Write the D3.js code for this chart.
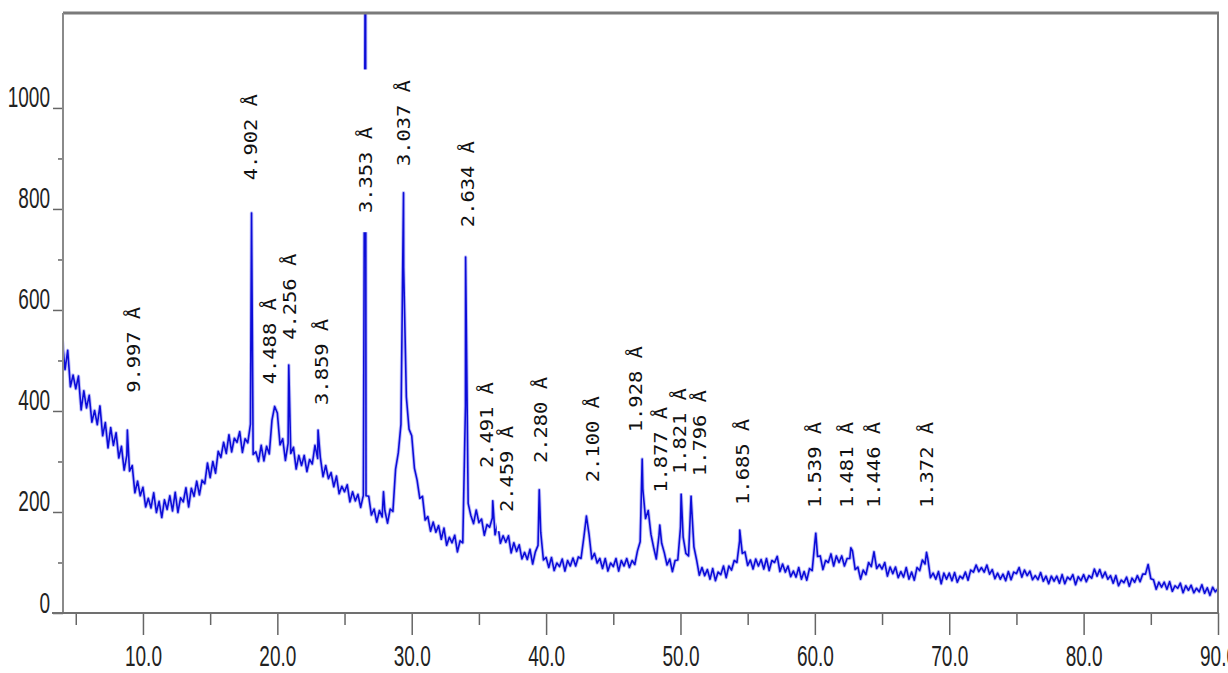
<!DOCTYPE html>
<meta charset="utf-8">
<style>
  body { margin: 0; background: #fff; }
  .axis text { font: 19px "Liberation Sans", Arial, sans-serif; fill: #222; }
  .axis line { stroke: #666; stroke-width: 1.5; }
  .peak text { font: 17px "DejaVu Sans Mono", monospace; fill: #111; }
</style>
<svg width="1228" height="673"></svg>
<script src="https://d3js.org/d3.v7.min.js"></script>
<script>

  // scan grid: 2-theta from 4.0 to 90.0 deg, 0.2 deg step
  var scanStart = 4.0, scanStep = 0.2;

  // counts, one row per degree
  var counts = [
    539,482,520,448,471, 444,469,402,440,406, 431,378,401,373,410, 351,377,327,367,332,
    357,307,330,283,312, 281,292,238,261,232, 249,210,227,208,238, 199,221,189,224,205,
    232,202,239,199,228, 220,248,210,247,231, 261,234,263,256,297, 268,300,277,320,308,
    338,316,353,319,346, 338,359,318,345,337, 374,314,319,300,332, 301,330,315,382,409,
    396,333,345,302,336, 316,328,285,312,292, 312,280,304,295,332, 306,308,270,292,266,
    278,250,271,236,251, 240,254,220,240,222, 235,209,233,232,231, 194,206,180,203,190,
    203,178,206,201,285, 317,374,684,428,364, 351,287,263,227,231, 184,191,162,180,160,
    173,146,168,134,150, 139,154,121,143,139, 411,217,193,177,204, 179,186,154,175,170,
    188,155,176,138,153, 140,153,119,139,122, 135,107,120,106,126, 97,121,134,160,105,
    110,90,110,84,99, 92,107,83,104,93, 109,93,111,108,148, 192,155,107,118,99,
    108,88,108,83,99, 92,108,83,104,93, 108,90,104,96,123, 141,245,187,203,156,
    130,107,153,138,119, 95,107,82,104,105, 169,150,118,113,223, 131,105,75,90,74,
    86,67,88,64,81, 76,93,70,93,85, 104,100,143,118,121, 94,105,87,107,93,
    106,87,108,84,104, 100,112,82,97,81, 93,72,83,71,90, 67,82,65,88,84,
    140,112,113,86,104, 100,117,93,113,100, 113,93,108,108,123, 86,91,67,85,76,
    100,92,121,88,96, 87,100,73,91,78, 91,70,82,71,90, 67,81,65,90,84,
    105,97,108,70,79, 67,82,58,79,67, 79,64,80,61,73, 68,81,65,85,81,
    95,82,90,81,95, 77,86,68,79,67, 77,64,82,66,81, 78,90,71,85,74,
    83,66,74,66,80, 63,73,58,73,63, 73,59,76,58,71, 66,76,56,72,64,
    76,62,74,69,87, 73,86,70,81,67, 74,59,74,54,65, 60,71,53,69,61,
    74,62,77,77,96, 68,66,47,61,51, 61,47,62,43,54, 49,59,40,54,45,
    55,40,49,42,56, 39,50,35,51,42, 48
  ];

  // sharp reflections (apex position and height)
  var peakAngle  = [8.84, 18.08, 20.85, 23.03, 26.56, 27.9, 29.39, 34.01, 36.03, 39.49, 47.15, 48.46, 50.05, 50.79, 54.41, 60.07, 62.68, 68.31];
  var peakCounts = [362, 792, 491, 362, 1450, 240, 832, 705, 222, 244, 305, 174, 236, 232, 164, 158, 129, 120];

  // d-spacing labels and where they sit (2-theta, counts at label foot)
  var labelText   = ["9.997 Å","4.902 Å","4.488 Å","4.256 Å","3.859 Å","3.353 Å","3.037 Å","2.634 Å","2.491 Å","2.459 Å","2.280 Å",
                     "2.100 Å","1.928 Å","1.877 Å","1.821 Å","1.796 Å","1.685 Å","1.539 Å","1.481 Å","1.446 Å","1.372 Å"];
  var labelAngle  = [9.33, 18.04, 19.46, 20.95, 23.33, 26.6, 29.43, 34.2, 35.61, 37.1, 39.64, 43.5, 46.71, 48.57, 49.99, 51.47, 54.68, 60.04, 62.42, 64.43, 68.38];
  var labelCounts = [436, 857, 453, 541, 412, 792, 885, 764, 287, 200, 297, 259, 358, 238, 275, 271, 214, 208, 208, 208, 208];

  var xMajor = [10, 20, 30, 40, 50, 60, 70, 80, 90];
  var xMinor = [5, 15, 25, 35, 45, 55, 65, 75, 85];
  var yMajor = [0, 200, 400, 600, 800, 1000];
  var yMinor = [100, 300, 500, 700, 900];

  var plotL = 63, plotR = 1218, plotT = 13, plotB = 613;

  var svg = d3.select("svg");

  var x = d3.scaleLinear().domain([4.05, 90]).range([plotL, plotR]);
  var y = d3.scaleLinear().domain([0, 1188]).range([plotB, plotT]);

  // merge scan grid with the peak apexes
  var data = counts.map(function(c, i) { return { a: scanStart + i * scanStep, c: c }; });
  peakAngle.forEach(function(a, i) { data.push({ a: a, c: peakCounts[i] }); });
  data.sort(function(p, q) { return p.a - q.a; });

  svg.append("clipPath").attr("id", "plot")
    .append("rect").attr("x", plotL).attr("y", plotT).attr("width", plotR - plotL).attr("height", plotB - plotT);

  var line = d3.line()
    .x(function(d) { return x(d.a); })
    .y(function(d) { return y(d.c); });

  // soft halo under the trace, then the trace
  svg.append("path")
    .datum(data)
    .attr("clip-path", "url(#plot)")
    .attr("d", line)
    .attr("fill", "none")
    .attr("stroke", "#4848f0")
    .attr("stroke-opacity", 0.35)
    .attr("stroke-width", 3.5)
    .attr("stroke-linejoin", "round");

  svg.append("path")
    .datum(data)
    .attr("clip-path", "url(#plot)")
    .attr("d", line)
    .attr("fill", "none")
    .attr("stroke", "#0c0cd8")
    .attr("stroke-width", 1.6)
    .attr("stroke-linejoin", "round");

  // x axis
  var gx = svg.append("g").attr("class", "axis")
    .attr("transform", "translate(0," + plotB + ")")
    .call(d3.axisBottom(x).tickValues(xMajor).tickSize(22).tickFormat(d3.format(".1f")));
  gx.select(".domain").remove();
  gx.selectAll("text").attr("y", 0).attr("dy", 0)
    .attr("transform", "translate(0,53) scale(1,1.55)");

  var gxm = svg.append("g").attr("class", "axis")
    .attr("transform", "translate(0," + plotB + ")")
    .call(d3.axisBottom(x).tickValues(xMinor).tickSize(12).tickFormat(""));
  gxm.select(".domain").remove();

  // y axis
  var gy = svg.append("g").attr("class", "axis")
    .attr("transform", "translate(" + plotL + ",0)")
    .call(d3.axisLeft(y).tickValues(yMajor).tickSize(10).tickPadding(3).tickFormat(d3.format("d")));
  gy.select(".domain").remove();
  gy.selectAll("text").attr("dy", 0)
    .attr("transform", "translate(0,-1) scale(1,1.55)");

  var gym = svg.append("g").attr("class", "axis")
    .attr("transform", "translate(" + plotL + ",0)")
    .call(d3.axisLeft(y).tickValues(yMinor).tickSize(5).tickFormat(""));
  gym.select(".domain").remove();

  // frame
  svg.append("line").attr("x1", plotL).attr("x2", plotR + 1).attr("y1", plotT).attr("y2", plotT)
    .attr("stroke", "#7a7a7a").attr("stroke-width", 3);
  svg.append("line").attr("x1", plotL).attr("x2", plotL).attr("y1", plotT).attr("y2", plotB)
    .attr("stroke", "#8a8a8a").attr("stroke-width", 2);
  svg.append("line").attr("x1", plotR).attr("x2", plotR).attr("y1", plotT).attr("y2", plotB)
    .attr("stroke", "#7a7a7a").attr("stroke-width", 2);
  svg.append("line").attr("x1", 52).attr("x2", plotR + 1).attr("y1", plotB).attr("y2", plotB)
    .attr("stroke", "#707070").attr("stroke-width", 2);

  // d-spacing labels, white box behind each
  var lab = svg.selectAll(".peak")
    .data(labelText)
    .enter().append("g")
      .attr("class", "peak")
      .attr("transform", function(d, i) {
        return "translate(" + x(labelAngle[i]) + "," + y(labelCounts[i]) + ") rotate(-90) scale(1.2,1)";
      });

  lab.append("rect").attr("fill", "#fff");
  lab.append("text")
    .attr("dy", "0.35em")
    .text(function(d) { return d; });

  lab.each(function() {
    var g = d3.select(this);
    var b = g.select("text").node().getBBox();
    g.select("rect")
      .attr("x", b.x - 16).attr("y", b.y)
      .attr("width", b.width + 64).attr("height", b.height);
  });

</script>
